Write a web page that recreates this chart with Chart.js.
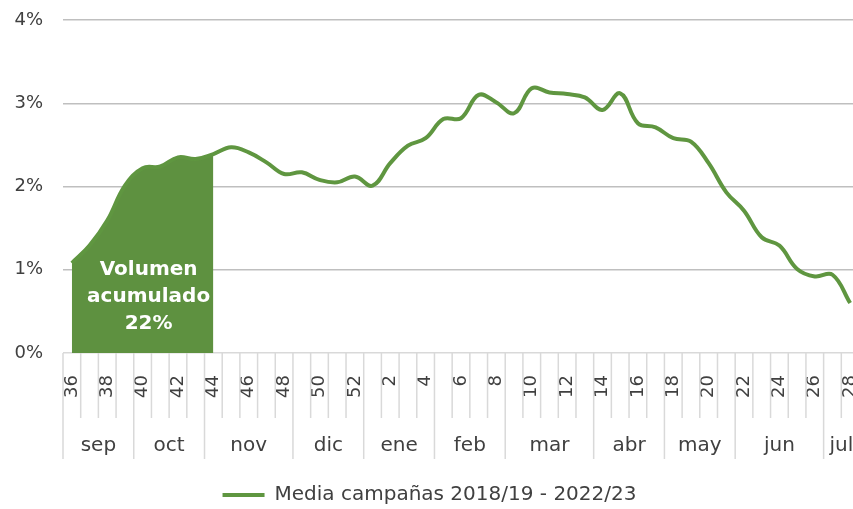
<!DOCTYPE html>
<html>
<head>
<meta charset="utf-8">
<script src="https://cdn.jsdelivr.net/npm/chart.js@4.4.1/dist/chart.umd.min.js"></script>
<style>
  html, body { margin: 0; padding: 0; background: #fff; overflow: hidden; }
  #wrap { width: 861px; height: 509px; }
</style>
</head>
<body>
<div id="wrap"><canvas id="weeklyChart"></canvas></div>
<script>
// semanas de campaña (sep -> jul)
const weeks = [36, 37, 38, 39, 40, 41, 42, 43, 44, 45, 46, 47, 48, 49, 50, 51, 52,
  1, 2, 3, 4, 5, 6, 7, 8, 9, 10, 11, 12, 13, 14, 15, 16, 17, 18, 19, 20, 21, 22, 23, 24, 25, 26, 27, 28]

// % del volumen anual por semana
const media = [1.08, 1.29, 1.59, 2.01, 2.22, 2.24, 2.35, 2.33, 2.39, 2.47, 2.41, 2.29, 2.15, 2.17, 2.08, 2.05, 2.12,
  2.01, 2.28, 2.49, 2.58, 2.81, 2.82, 3.10, 3.01, 2.88, 3.18, 3.13, 3.11, 3.07, 2.92, 3.12, 2.76, 2.71,
  2.58, 2.54, 2.28, 1.93, 1.71, 1.39, 1.29, 1.01, 0.92, 0.94, 0.60]

// weeks up to 44 are shaded
const lastShadedWeek = 44

const months = ["sep", "oct", "nov", "dic", "ene", "feb", "mar", "abr", "may", "jun", "jul"]
const monthFirstWeek = [36, 40, 44, 49, 1, 5, 9, 14, 18, 22, 27]

const yTicks = [0, 1, 2, 3, 4]
const legendLabel = "Media campañas 2018/19 - 2022/23"
const noteLines = ["Volumen", "acumulado", "22%"]

const green = "#5f9640"
const textColor = "#404040"
const font = "DejaVu Sans"

const shadedIdx = weeks.indexOf(lastShadedWeek)
const shaded = media.map((v, i) => i <= shadedIdx ? v : null)

// draws week separators, month row and the note inside the shaded area
const extrasPlugin = {
  id: "extras",
  afterDraw(chart) {
    const { ctx, scales: { x, y }, chartArea } = chart
    const half = (x.getPixelForValue(1) - x.getPixelForValue(0)) / 2
    const base = chartArea.bottom
    ctx.save()
    ctx.strokeStyle = "#d9d9d9"
    ctx.lineWidth = 1.5
    for (let i = 0; i <= weeks.length; i++) {
      const px = x.getPixelForValue(i) - half
      const isMonth = i < weeks.length && monthFirstWeek.includes(weeks[i])
      ctx.beginPath()
      ctx.moveTo(px, base)
      ctx.lineTo(px, base + (isMonth ? 106 : 65))
      ctx.stroke()
    }
    ctx.fillStyle = textColor
    ctx.font = "20px '" + font + "'"
    ctx.textAlign = "center"
    ctx.textBaseline = "middle"
    months.forEach((m, k) => {
      const a = weeks.indexOf(monthFirstWeek[k])
      const b = k + 1 < months.length ? weeks.indexOf(monthFirstWeek[k + 1]) - 1 : weeks.length - 1
      const px = (x.getPixelForValue(a) + x.getPixelForValue(b)) / 2
      ctx.fillText(m, px, base + 93)
    })

    // note
    ctx.fillStyle = "#ffffff"
    ctx.font = "bold 20px '" + font + "'"
    const cx = (x.getPixelForValue(0) + x.getPixelForValue(shadedIdx)) / 2 + 6
    const y0 = y.getPixelForValue(1)
    noteLines.forEach((t, i) => ctx.fillText(t, cx, y0 + i * 27))
    ctx.restore()
  }
}

const ctx = document.getElementById("weeklyChart").getContext("2d")

new Chart(ctx, {
  type: "line",
  data: {
    labels: weeks.map(String),
    datasets: [
      {
        label: legendLabel,
        data: media,
        borderColor: green,
        backgroundColor: green,
        borderWidth: 4,
        pointRadius: 0,
        tension: 0.4,
        fill: false,
        order: 1
      },
      {
        label: "shaded",
        data: shaded,
        borderWidth: 0,
        borderColor: "rgba(0,0,0,0)",
        backgroundColor: "#5e9140",
        pointRadius: 0,
        tension: 0.4,
        fill: "origin",
        order: 2
      }
    ]
  },
  options: {
    responsive: true,
    maintainAspectRatio: false,
    animation: false,
    layout: { padding: { top: 20, left: 0, right: 2, bottom: -6 } },
    scales: {
      x: {
        offset: true,
        grid: { display: false },
        border: { display: false },
        ticks: {
          autoSkip: false,
          minRotation: 90,
          maxRotation: 90,
          padding: 14,
          color: textColor,
          font: { family: font, size: 18 },
          callback: function(value, index) {
            return weeks[index] % 2 === 0 ? String(weeks[index]) : ""
          }
        },
        afterFit(scale) {
          scale.height = 127
          scale.paddingLeft = 0
          scale.paddingRight = 0
        }
      },
      y: {
        min: 0,
        max: 4,
        afterBuildTicks(scale) { scale.ticks = yTicks.map(v => ({ value: v })) },
        grid: {
          color: c => c.tick && c.tick.value === 0 ? "#d9d9d9" : "#bfbfbf",
          lineWidth: 1.5,
          drawTicks: false
        },
        border: { display: false },
        ticks: {
          padding: 20,
          color: textColor,
          font: { family: font, size: 18 },
          callback: v => v + "%"
        },
        afterFit(scale) {
          scale.width = 63
          scale.paddingTop = 0
          scale.paddingBottom = 0
        }
      }
    },
    plugins: {
      legend: {
        position: "bottom",
        labels: {
          color: textColor,
          font: { family: font, size: 20 },
          boxWidth: 42,
          boxHeight: 4,
          padding: 5,
          generateLabels(chart) {
            return [{
              text: legendLabel,
              fillStyle: green,
              strokeStyle: green,
              lineWidth: 0,
              datasetIndex: 0,
              fontColor: textColor
            }]
          }
        }
      },
      tooltip: { enabled: false }
    }
  },
  plugins: [extrasPlugin]
})
</script>
</body>
</html>
